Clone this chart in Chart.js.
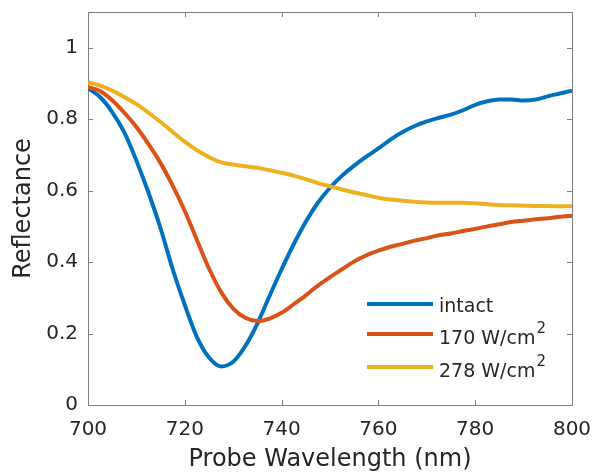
<!DOCTYPE html>
<html>
<head>
<meta charset="utf-8">
<script src="https://cdn.jsdelivr.net/npm/chart.js@4.4.1/dist/chart.umd.min.js"></script>
<style>
  html, body { margin: 0; padding: 0; background: #fff; }
  #wrap { width: 594px; height: 475px; position: relative; }
</style>
</head>
<body>
<div id="wrap"><canvas id="reflChart"></canvas></div>
<script>
// wavelengths (nm), shared by all three curves
const wavelength = [700, 702.5, 705, 707.5, 710, 712.5, 715, 717.5, 720, 722.5, 725, 727.5, 730, 732.5, 735, 737.5, 740, 742.5, 745, 747.5, 750, 752.5, 755, 757.5, 760, 762.5, 765, 767.5, 770, 772.5, 775, 777.5, 780, 782.5, 785, 787.5, 790, 792.5, 795, 797.5, 800];

const intact = [0.887, 0.862, 0.82, 0.763, 0.684, 0.594, 0.494, 0.38, 0.28, 0.19, 0.133, 0.108, 0.121, 0.165, 0.228, 0.305, 0.38, 0.45, 0.513, 0.566, 0.608, 0.642, 0.67, 0.695, 0.718, 0.743, 0.764, 0.781, 0.794, 0.804, 0.813, 0.825, 0.84, 0.85, 0.855, 0.855, 0.852, 0.855, 0.864, 0.872, 0.88];
const w170 = [0.89, 0.879, 0.853, 0.818, 0.778, 0.73, 0.677, 0.614, 0.543, 0.462, 0.382, 0.316, 0.27, 0.244, 0.235, 0.242, 0.258, 0.282, 0.307, 0.334, 0.358, 0.38, 0.402, 0.419, 0.432, 0.443, 0.451, 0.46, 0.467, 0.475, 0.48, 0.487, 0.493, 0.5, 0.506, 0.512, 0.516, 0.52, 0.523, 0.527, 0.53];
const w278 = [0.903, 0.894, 0.88, 0.862, 0.842, 0.818, 0.792, 0.764, 0.737, 0.713, 0.694, 0.679, 0.673, 0.668, 0.664, 0.657, 0.65, 0.642, 0.632, 0.621, 0.612, 0.603, 0.595, 0.588, 0.58, 0.575, 0.572, 0.569, 0.567, 0.566, 0.566, 0.566, 0.565, 0.562, 0.56, 0.559, 0.558, 0.557, 0.557, 0.556, 0.556];

const seriesNames = ['intact', '170 W/cm^2', '278 W/cm^2'];
const xTicks = [700, 720, 740, 760, 780, 800];
const yTicks = [0, 0.2, 0.4, 0.6, 0.8, 1];

const colors = ['#0072BD', '#D95319', '#EDB120'];
const axisGray = '#7f7f7f';
const textCol = '#262626';
const fontFam = '"DejaVu Sans", sans-serif';

function toPoints(ys) {
  return wavelength.map((x, i) => ({ x: x, y: ys[i] }));
}

// inward ticks on all four sides + top/right box lines (matlab style)
const boxTicks = {
  id: 'boxTicks',
  afterDraw(chart) {
    const { ctx, chartArea: a, scales } = chart;
    const len = 5;
    ctx.save();
    ctx.strokeStyle = axisGray;
    ctx.lineWidth = 1;
    ctx.beginPath();
    ctx.moveTo(a.left, a.top + 0.5);
    ctx.lineTo(a.right + 0.5, a.top + 0.5);
    ctx.lineTo(a.right + 0.5, a.bottom);
    xTicks.forEach((v) => {
      const px = Math.round(scales.x.getPixelForValue(v)) + 0.5;
      ctx.moveTo(px, a.bottom);
      ctx.lineTo(px, a.bottom - len);
      ctx.moveTo(px, a.top);
      ctx.lineTo(px, a.top + len);
    });
    yTicks.forEach((v) => {
      const py = Math.round(scales.y.getPixelForValue(v)) + 0.5;
      ctx.moveTo(a.left, py);
      ctx.lineTo(a.left + len, py);
      ctx.moveTo(a.right, py);
      ctx.lineTo(a.right - len, py);
    });
    ctx.stroke();
    ctx.restore();
  },
};

// legend inside the axes, with superscripts
const insideLegend = {
  id: 'insideLegend',
  afterDraw(chart) {
    const { ctx, chartArea: a } = chart;
    const x0 = a.right - 205;
    const lineY = [a.bottom - 101, a.bottom - 71, a.bottom - 38];
    const baseY = [a.bottom - 93, a.bottom - 61, a.bottom - 28];
    ctx.save();
    chart.data.datasets.forEach((ds, i) => {
      ctx.strokeStyle = ds.borderColor;
      ctx.lineWidth = 4;
      ctx.beginPath();
      ctx.moveTo(x0, lineY[i]);
      ctx.lineTo(x0 + 66, lineY[i]);
      ctx.stroke();

      const parts = seriesNames[i].split('^');
      ctx.fillStyle = textCol;
      ctx.textBaseline = 'alphabetic';
      ctx.textAlign = 'left';
      ctx.font = '19px ' + fontFam;
      ctx.fillText(parts[0], x0 + 72, baseY[i]);
      if (parts[1]) {
        const w = ctx.measureText(parts[0]).width;
        ctx.font = '15px ' + fontFam;
        ctx.fillText(parts[1], x0 + 72 + w + 1, baseY[i] - 11);
      }
    });
    ctx.restore();
  },
};

const ctx = document.getElementById('reflChart').getContext('2d');

new Chart(ctx, {
  type: 'line',
  data: {
    datasets: [
      { label: seriesNames[0], data: toPoints(intact), borderColor: colors[0], order: 3 },
      { label: seriesNames[1], data: toPoints(w170), borderColor: colors[1], order: 2 },
      { label: seriesNames[2], data: toPoints(w278), borderColor: colors[2], order: 1 },
    ],
  },
  options: {
    responsive: true,
    maintainAspectRatio: false,
    animation: false,
    layout: { padding: { left: 0, top: 12, right: 22, bottom: 0 } },
    elements: {
      line: { borderWidth: 4, cubicInterpolationMode: 'monotone', fill: false },
      point: { radius: 0 },
    },
    scales: {
      x: {
        type: 'linear',
        min: 700,
        max: 800,
        afterFit: (s) => { s.height = 70; s.paddingLeft = 0; s.paddingRight = 0; },
        afterBuildTicks: (s) => { s.ticks = xTicks.map((v) => ({ value: v })); },
        grid: { display: false, drawTicks: false },
        border: { display: true, color: axisGray, width: 1 },
        ticks: { color: textCol, padding: 13, font: { family: fontFam, size: 20 } },
        title: {
          display: true,
          text: 'Probe Wavelength (nm)',
          color: textCol,
          font: { family: fontFam, size: 24 },
          padding: { top: 0, bottom: 1 },
        },
      },
      y: {
        min: 0,
        max: 1.1,
        afterFit: (s) => { s.width = 88; s.paddingTop = 0; s.paddingBottom = 0; },
        afterBuildTicks: (s) => { s.ticks = yTicks.map((v) => ({ value: v })); },
        grid: { display: false, drawTicks: false },
        border: { display: true, color: axisGray, width: 1 },
        ticks: {
          color: textCol,
          padding: 10,
          font: { family: fontFam, size: 20 },
          callback: (v) => String(Math.round(v * 10) / 10),
        },
        title: {
          display: true,
          text: 'Reflectance',
          color: textCol,
          font: { family: fontFam, size: 24 },
          padding: { top: 9, bottom: 0 },
        },
      },
    },
    plugins: {
      legend: { display: false },
      tooltip: { enabled: false },
    },
  },
  plugins: [boxTicks, insideLegend],
});
</script>
</body>
</html>
